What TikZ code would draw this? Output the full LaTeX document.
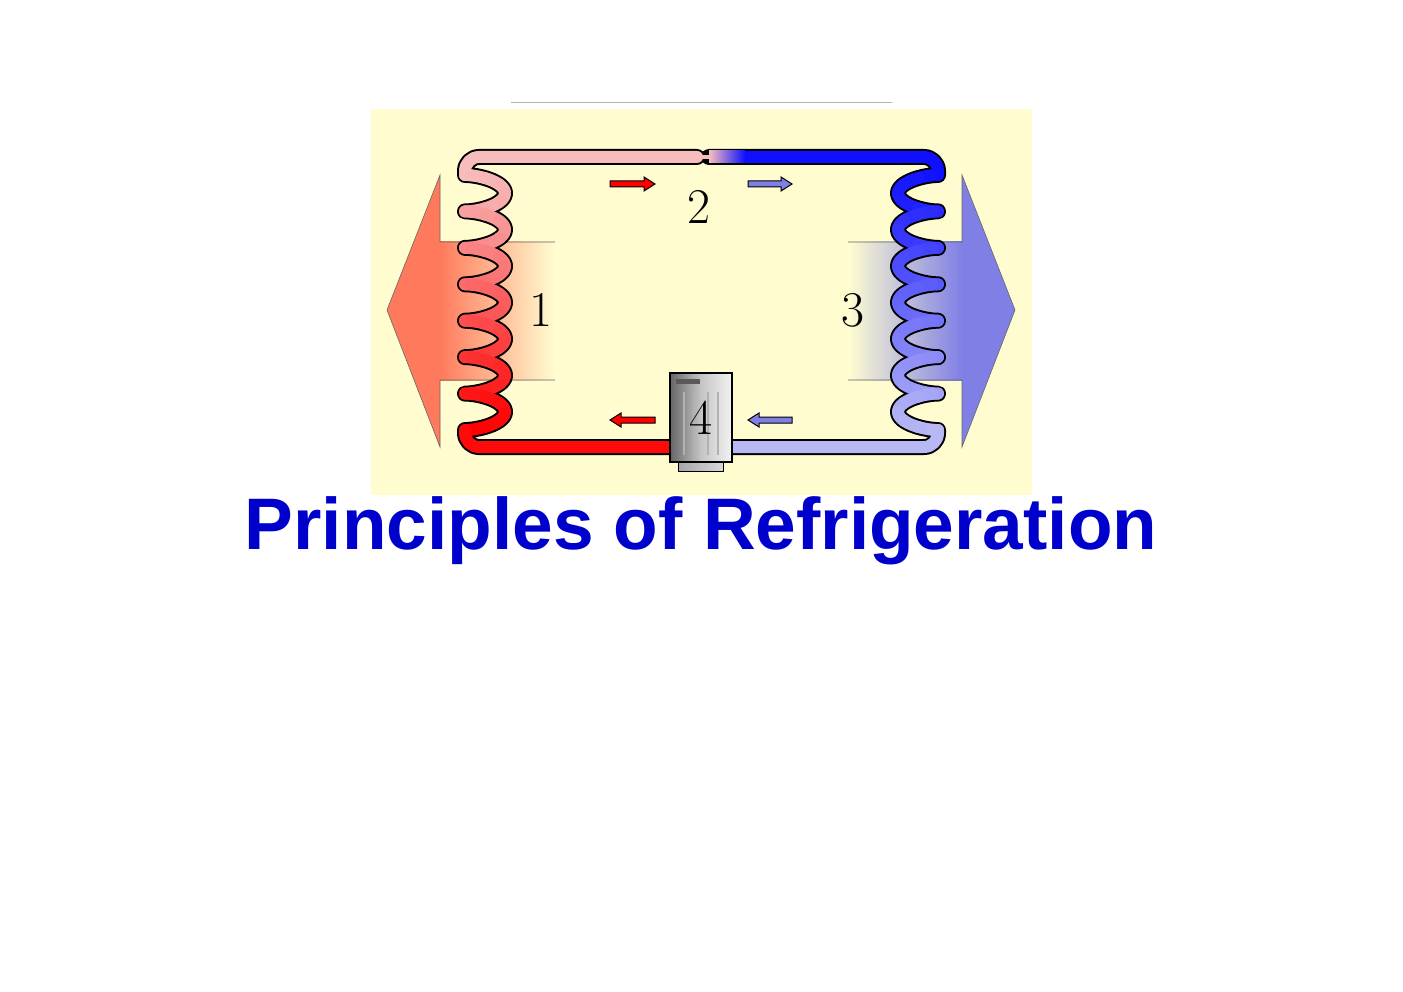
\documentclass[tikz,border=0pt]{standalone}
\usepackage{fontspec}
\newfontfamily\titlefont{Liberation Sans}
\begin{document}
\begin{tikzpicture}[x=1pt,y=-1pt,
  lbl/.style={font=\fontsize{50}{50}\selectfont, inner sep=0pt},
  outl/.style={line width=16, black, line cap=round, line join=round},
  fil/.style={line width=12, line cap=round, line join=round},
  smallarr/.style={draw=black, line width=1},
]
\definecolor{bgy}{HTML}{FFFDD0}
\definecolor{pinkc}{HTML}{F7BDBD}
\definecolor{redc}{HTML}{FF0A0A}
\definecolor{bluec}{HTML}{1010FF}
\definecolor{lblue}{HTML}{B8B8F5}
\definecolor{salmon}{HTML}{FF7A5C}
\definecolor{ablue}{HTML}{7F7FE6}
\definecolor{titleblue}{HTML}{0000CC}
\useasboundingbox (0,0) rectangle (1403,992);
\fill[white] (0,0) rectangle (1403,992);
\draw[gray!60, line width=1] (511,103) -- (892,103);
\fill[bgy] (371,109) rectangle (1032,495);
% big arrows
\shade[left color=salmon, right color=bgy] (440,242) rectangle (555,380);
\fill[salmon] (440,175) -- (387,310) -- (440,447) -- cycle;
\draw[gray!80!black, line width=0.6] (555,242) -- (440,242) -- (440,175) -- (387,310) -- (440,447) -- (440,380) -- (555,380);
\shade[right color=ablue, left color=bgy] (848,242) rectangle (962,380);
\fill[ablue] (962,175) -- (1015,310) -- (962,447) -- cycle;
\draw[gray!80!black, line width=0.6] (848,242) -- (962,242) -- (962,175) -- (1015,310) -- (962,447) -- (962,380) -- (848,380);
% outlines (one continuous path per side)
\draw[outl] (697,157) -- (479,157) to[out=180,in=90] (465,171)
  -- plot[domain=0:2520, samples=250, smooth] ({485-20*cos(\x)}, {175+\x*0.10119-6*sin(\x)})
  -- (465,433) to[out=-90,in=180] (479,447) -- (672,447);
\draw[outl] (709,157) -- (924,157) to[out=0,in=90] (938,171)
  -- plot[domain=0:2520, samples=250, smooth] ({918+20*cos(\x)}, {175+\x*0.10119-6*sin(\x)})
  -- (938,433) to[out=-90,in=0] (924,447) -- (730,447);
\draw[line width=8, black] (695,157) -- (711,157);
% fills
\draw[fil, pinkc] (697,157) -- (479,157) to[out=180,in=90] (465,171) -- (465,175);
\draw[pinkc, line width=4] (694,157) -- (712,157);
\draw[fil, bluec] (740,157) -- (924,157) to[out=0,in=90] (938,171) -- (938,175);
\shade[left color=pinkc, right color=bluec] (709,151) rectangle (745,163);
\foreach \i in {0,...,55}{
  \pgfmathsetmacro\a{\i*45}
  \pgfmathsetmacro\b{\a+45}
  \pgfmathsetmacro\p{100*\i/55}
  \draw[fil, red!\p!pinkc] plot[domain=\a:\b, samples=7, smooth] ({485-20*cos(\x)}, {175+\x*0.10119-6*sin(\x)});
  \draw[fil, lblue!\p!bluec] plot[domain=\a:\b, samples=7, smooth] ({918+20*cos(\x)}, {175+\x*0.10119-6*sin(\x)});
}
\draw[fil, redc] (465,430) -- (465,433) to[out=-90,in=180] (479,447) -- (672,447);
\draw[fil, lblue] (938,430) -- (938,433) to[out=-90,in=0] (924,447) -- (730,447);
% small arrows
\draw[smallarr, fill=red] (610,181) -- (644,181) -- (644,177) -- (655,184) -- (644,191) -- (644,187) -- (610,187) -- cycle;
\draw[smallarr, fill=ablue] (748,181) -- (781,181) -- (781,177) -- (792,184) -- (781,191) -- (781,187) -- (748,187) -- cycle;
\draw[smallarr, fill=red] (655,417) -- (621,417) -- (621,413) -- (610,420) -- (621,427) -- (621,423) -- (655,423) -- cycle;
\draw[smallarr, fill=ablue] (792,417) -- (759,417) -- (759,413) -- (748,420) -- (759,427) -- (759,423) -- (792,423) -- cycle;
% compressor
\shade[left color=gray!70, right color=gray!30, draw=black, line width=1] (678,462) rectangle (723,471);
\node[draw=black, line width=1.5, minimum width=62, minimum height=89, inner sep=0, left color=gray!80!black, right color=gray!10, middle color=gray!45] (comp) at (701,417.5) {};
\fill[gray!70!black] (676,379) rectangle (700,384);
\foreach \xx in {684,694,708,718}{\draw[gray!60, line width=2] (\xx,392) -- (\xx,455);}
% labels
\node[lbl] (l1) at (541,310) {1};
\node[lbl] (l2) at (699,207) {2};
\node[lbl] (l3) at (853,310) {3};
\node[lbl] (l4) at (comp) {4};
\node[font=\titlefont\bfseries\fontsize{73}{73}\selectfont, text=titleblue, inner sep=0] (title) at (701,531) {Principles of Refrigeration};
\end{tikzpicture}
\end{document}
